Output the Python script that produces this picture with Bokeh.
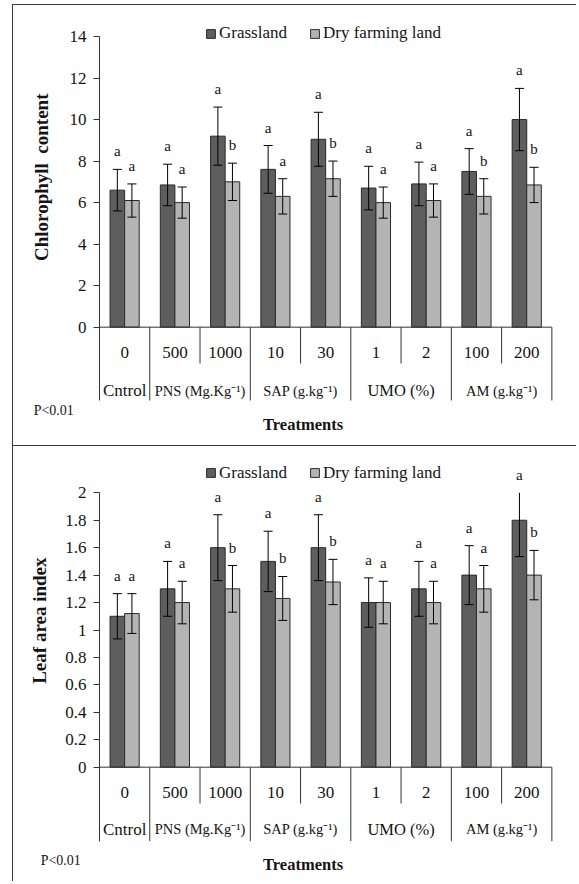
import numpy as np
from bokeh.plotting import figure
from bokeh.models import Range1d, FixedTicker, Legend, LegendItem, Title
from bokeh.layouts import column
from bokeh.embed import file_html
from bokeh.resources import INLINE
from bokeh.core.properties import value

# ---------------- data ----------------
dose_labels = ["0", "500", "1000", "10", "30", "1", "2", "100", "200"]
group_labels = ["Cntrol", "PNS (Mg.Kg\u207b\u00b9)", "SAP (g.kg\u207b\u00b9)", "UMO (%)", "AM (g.kg\u207b\u00b9)"]
group_start = [0, 1, 3, 5, 7]
group_end = [1, 3, 5, 7, 9]
series_names = ["Grassland", "Dry farming land"]
x_title = "Treatments"
note = "P<0.01"
chl_title = "Chlorophyll \u00a0content"
lai_title = "Leaf area index"

chl_grass = [6.6, 6.85, 9.2, 7.6, 9.05, 6.7, 6.9, 7.5, 10.0]
chl_grass_err = [1.0, 1.0, 1.4, 1.15, 1.3, 1.05, 1.05, 1.1, 1.5]
chl_dry = [6.1, 6.0, 7.0, 6.3, 7.15, 6.0, 6.1, 6.3, 6.85]
chl_dry_err = [0.8, 0.75, 0.9, 0.85, 0.85, 0.75, 0.8, 0.85, 0.85]
chl_grass_sig = ["a", "a", "a", "a", "a", "a", "a", "a", "a"]
chl_dry_sig = ["a", "a", "b", "a", "b", "a", "a", "b", "b"]
chl_ticks = [0, 2, 4, 6, 8, 10, 12, 14]
chl_tick_labels = ["0", "2", "4", "6", "8", "10", "12", "14"]

lai_grass = [1.1, 1.3, 1.6, 1.5, 1.6, 1.2, 1.3, 1.4, 1.8]
lai_grass_err = [0.165, 0.2, 0.24, 0.22, 0.24, 0.18, 0.2, 0.215, 0.265]
lai_dry = [1.12, 1.2, 1.3, 1.23, 1.35, 1.2, 1.2, 1.3, 1.4]
lai_dry_err = [0.145, 0.155, 0.17, 0.16, 0.165, 0.155, 0.155, 0.17, 0.18]
lai_grass_sig = ["a", "a", "a", "a", "a", "a", "a", "a", "a"]
lai_dry_sig = ["a", "a", "b", "b", "b", "a", "a", "a", "b"]
lai_ticks = [0, 0.2, 0.4, 0.6, 0.8, 1, 1.2, 1.4, 1.6, 1.8, 2]
lai_tick_labels = ["0", "0.2", "0.4", "0.6", "0.8", "1", "1.2", "1.4", "1.6", "1.8", "2"]

# ---------------- styles ----------------
FONT = value("Liberation Serif")
TXT = "#141414"
DARK = "#5e5e5e"
LIGHT = "#b4b4b4"
EDGE = "#2a2a2a"
AX = "#333333"
BAR_W = 0.29
DODGE = 0.145
CAP = 0.09
group_sizes = ["17px", "14.5px", "14.5px", "16.5px", "14.5px"]


def make_panel(grass, grass_err, dry, dry_err, g_sig, d_sig, ticks, tick_labels,
               ylabel, height, yr, inner_end, outer_end, dose_y, group_y,
               title_y, note_x, note_y, legend_y, ytitle_offset, ytitle_standoff, css):
    p = figure(width=564, height=height, x_range=Range1d(0, 9.51), y_range=Range1d(*yr),
               output_backend="svg", toolbar_location=None, x_axis_location=None,
               min_border_left=85, min_border_right=0, min_border_top=0, min_border_bottom=0,
               styles=css)
    p.outline_line_color = None
    p.grid.grid_line_color = None
    p.background_fill_color = "white"

    yax = p.yaxis[0]
    yax.ticker = FixedTicker(ticks=ticks)
    yax.major_label_overrides = {t: l for t, l in zip(ticks, tick_labels)}
    yax.bounds = (outer_end, ticks[-1])
    yax.major_tick_out = 6
    yax.major_tick_in = 0
    yax.minor_tick_line_color = None
    yax.axis_line_color = AX
    yax.major_tick_line_color = AX
    yax.major_label_standoff = 7
    yax.major_label_text_font = "Liberation Serif"
    yax.major_label_text_font_size = "17px"
    yax.major_label_text_color = TXT

    p.add_layout(Title(text=ylabel, align="right", offset=ytitle_offset,
                       vertical_align="bottom", standoff=ytitle_standoff,
                       text_font="Liberation Serif", text_font_size="19px",
                       text_font_style="bold", text_color=TXT), "left")

    cats = np.arange(len(dose_labels)) + 0.5
    xg = cats - DODGE
    xd = cats + DODGE

    rg = p.vbar(x=xg, top=grass, bottom=0, width=BAR_W, fill_color=DARK,
                line_color=EDGE, line_width=1)
    rd = p.vbar(x=xd, top=dry, bottom=0, width=BAR_W, fill_color=LIGHT,
                line_color=EDGE, line_width=1)

    axis_top = ticks[-1]
    for xs, vals, errs, sig in ((xg, grass, grass_err, g_sig), (xd, dry, dry_err, d_sig)):
        v = np.array(vals)
        e = np.array(errs)
        lo = v - e
        hi = v + e
        hi_draw = np.minimum(hi, axis_top)
        p.segment(x0=xs, y0=lo, x1=xs, y1=hi_draw, line_color="black", line_width=1)
        p.segment(x0=xs - CAP, y0=lo, x1=xs + CAP, y1=lo, line_color="black", line_width=1)
        keep = hi <= axis_top
        p.segment(x0=xs[keep] - CAP, y0=hi[keep], x1=xs[keep] + CAP, y1=hi[keep],
                  line_color="black", line_width=1)
        p.text(x=xs, y=hi_draw, text=sig, text_align="center", text_baseline="middle",
               y_offset=-18, text_font=FONT, text_font_size="15px", text_color=TXT)

    # category axis line and table below it
    p.segment(x0=0, y0=0, x1=len(dose_labels), y1=0, line_color=AX, line_width=1)
    bounds = set(group_end)
    div_x = np.arange(1, len(dose_labels) + 1)
    div_end = np.array([outer_end if b in bounds else inner_end for b in div_x])
    p.segment(x0=div_x, y0=np.zeros(len(div_x)), x1=div_x, y1=div_end,
              line_color=AX, line_width=1)

    p.text(x=cats, y=[dose_y] * len(cats), text=dose_labels, text_align="center",
           text_baseline="middle", text_font=FONT, text_font_size="17px", text_color=TXT)
    gx = (np.array(group_start) + np.array(group_end)) / 2.0
    p.text(x=gx, y=[group_y] * len(gx), text=group_labels, text_align="center",
           text_baseline="middle", text_font=FONT, text_font_size=group_sizes,
           text_color=TXT)
    p.text(x=[4.05], y=[title_y], text=[x_title], text_align="center",
           text_baseline="middle", text_font=FONT, text_font_size="16.5px",
           text_font_style="bold", text_color=TXT)
    p.text(x=[note_x], y=[note_y], text=[note], text_align="left", text_baseline="middle",
           text_font=FONT, text_font_size="14px", text_color=TXT, level="overlay")

    legend = Legend(items=[LegendItem(label=series_names[0], renderers=[rg]),
                           LegendItem(label=series_names[1], renderers=[rd])],
                    orientation="horizontal", location=(106, legend_y),
                    border_line_color=None, background_fill_alpha=0,
                    label_text_font="Liberation Serif", label_text_font_size="17px",
                    label_text_color=TXT, glyph_width=11, glyph_height=11,
                    label_standoff=3, spacing=22, padding=0, margin=0)
    p.add_layout(legend)
    return p


p1 = make_panel(chl_grass, chl_grass_err, chl_dry, chl_dry_err, chl_grass_sig, chl_dry_sig,
                chl_ticks, chl_tick_labels, chl_title, 441,
                (-5.747, 15.493), -1.75, -3.53, -1.22, -3.05, -4.69, -1.31, -4.01,
                403, 88, 30,
                {"margin-left": "12px", "margin-top": "4px",
                 "border-left": "1px solid #3a3a3a", "border-top": "1px solid #3a3a3a"})

p2 = make_panel(lai_grass, lai_grass_err, lai_dry, lai_dry_err, lai_grass_sig, lai_dry_sig,
                lai_ticks, lai_tick_labels, lai_title, 436,
                (-0.8404, 2.3375), -0.265, -0.539, -0.182, -0.454, -0.709, -1.17, -0.678,
                399.5, 111, 26,
                {"margin-left": "12px",
                 "border-left": "1px solid #3a3a3a", "border-top": "1px solid #3a3a3a"})

layout = column(p1, p2, spacing=0)
open("out.html", "w").write(file_html(layout, INLINE))
